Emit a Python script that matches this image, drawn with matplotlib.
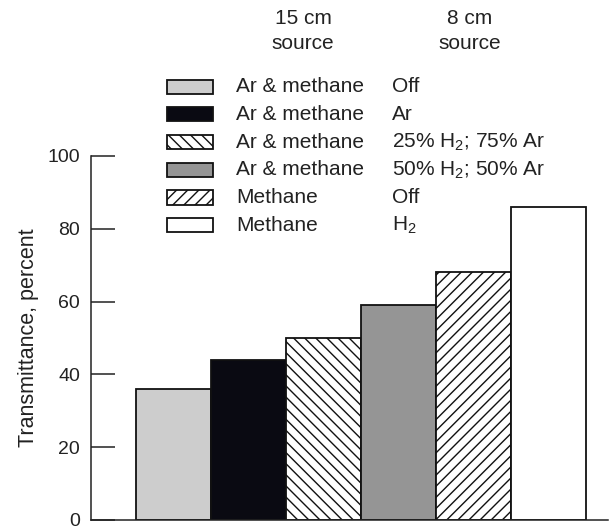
import matplotlib.pyplot as plt
from matplotlib.patches import Rectangle

# Dados
gas = ["Ar & methane", "Ar & methane", "Ar & methane", "Ar & methane", "Methane", "Methane"]
source = ["Off", "Ar", "25% H$_2$; 75% Ar", "50% H$_2$; 50% Ar", "Off", "H$_2$"]
transmittance = [36, 44, 50, 59, 68, 86]

# Estilo de cada barra (cor, hachura)
faces = ["#cdcdcd", "#0a0a12", "white", "#959595", "white", "white"]
hatches = ["", "", "\\\\\\", "", "///", ""]

plt.rcParams["font.family"] = ["Liberation Sans", "DejaVu Sans"]
plt.rcParams["mathtext.fontset"] = "custom"
plt.rcParams["mathtext.rm"] = "Liberation Sans"
plt.rcParams["font.size"] = 15
plt.rcParams["hatch.linewidth"] = 1.0

fig = plt.figure(figsize=(6.16, 5.27), dpi=100)
W, H = 616, 527
ax = fig.add_axes([91 / W, 1 - 520 / H, (608 - 91) / W, (520 - 156) / H])

x = list(range(len(transmittance)))
for i, v in enumerate(transmittance):
    ax.bar(x[i], v, width=1.0, color=faces[i], hatch=hatches[i],
           edgecolor="#111111", linewidth=1.3)

ax.set_xlim(-1.1, 5.79)
ax.set_ylim(0, 100)
ax.set_yticks([0, 20, 40, 60, 80, 100])
ax.set_xticks([])
ax.tick_params(axis="y", direction="in", length=17, width=1.1, pad=8,
               colors="#222222", labelsize=14)
for s in ["top", "right"]:
    ax.spines[s].set_visible(False)
for s in ["left", "bottom"]:
    ax.spines[s].set_linewidth(1.1)
    ax.spines[s].set_color("#222222")
ax.set_ylabel("Transmittance, percent", color="#222222", labelpad=6, fontsize=15.5)

# Legenda manual com duas colunas de texto
row0 = 86.7
step = 27.7
for i in range(len(gas)):
    yc = row0 + i * step
    rect = Rectangle((167 / W, 1 - (yc + 7) / H), 46 / W, 14 / H,
                     transform=fig.transFigure, facecolor=faces[i],
                     hatch=hatches[i], edgecolor="#111111", linewidth=1.3)
    fig.add_artist(rect)
    fig.text(236 / W, 1 - yc / H, gas[i], va="center", ha="left", color="#222222")
    fig.text(392 / W, 1 - yc / H, source[i], va="center", ha="left", color="#222222")

fig.text(303 / W, 1 - 31 / H, "15 cm\nsource", ha="center", va="center",
         color="#222222", linespacing=1.4)
fig.text(470 / W, 1 - 31 / H, "8 cm\nsource", ha="center", va="center",
         color="#222222", linespacing=1.4)

fig.savefig("out.png", dpi=100)
